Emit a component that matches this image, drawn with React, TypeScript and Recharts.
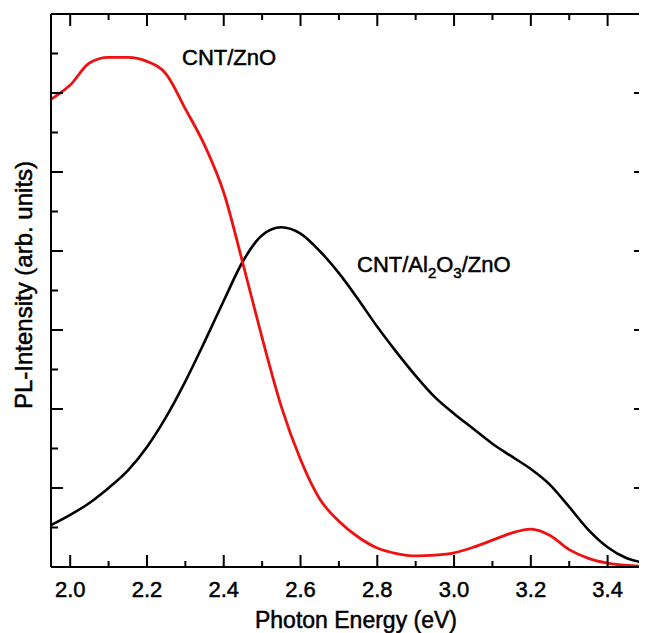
import React from 'react'
import { LineChart, Line, XAxis, YAxis, ReferenceLine, Customized } from 'recharts'

// photon energy grid (eV)
const energy = [
  1.95, 2.0, 2.05, 2.1, 2.15, 2.2, 2.25, 2.3, 2.35, 2.4, 2.45, 2.5, 2.55, 2.6, 2.65, 2.7,
  2.75, 2.8, 2.85, 2.9, 2.95, 3.0, 3.05, 3.1, 3.15, 3.2, 3.25, 3.3, 3.35, 3.4, 3.45, 3.5,
]

// PL intensity, arb. units
const cntZnO = [
  5.92, 6.1, 6.38, 6.45, 6.45, 6.4, 6.24, 5.8, 5.34, 4.74, 3.84, 2.9, 2.03, 1.36, 0.86, 0.58,
  0.38, 0.24, 0.17, 0.14, 0.15, 0.18, 0.25, 0.34, 0.43, 0.48, 0.4, 0.22, 0.11, 0.05, 0.02, 0.01,
]
const cntAl2O3ZnO = [
  0.53, 0.66, 0.81, 1.0, 1.22, 1.52, 1.9, 2.35, 2.85, 3.37, 3.87, 4.2, 4.3, 4.22, 4.0, 3.72,
  3.39, 3.04, 2.72, 2.42, 2.15, 1.94, 1.75, 1.56, 1.4, 1.24, 1.04, 0.76, 0.47, 0.25, 0.11, 0.05,
]

const xTicks = [2.0, 2.1, 2.2, 2.3, 2.4, 2.5, 2.6, 2.7, 2.8, 2.9, 3.0, 3.1, 3.2, 3.3, 3.4]
const yTicks = [0.5, 1, 1.5, 2, 2.5, 3, 3.5, 4, 4.5, 5, 5.5, 6, 6.5]

const X_MIN = 1.95
const X_MAX = 3.5
const Y_MAX = 7

const chartData = energy.map((e, i) => ({
  e,
  zno: cntZnO[i],
  al: cntAl2O3ZnO[i],
}))

// layout
const W = 639
const H = 625
const MARGIN = { top: 6, right: 1, left: 0, bottom: 0 }
const X_AXIS_H = 66
const Y_AXIS_W = 43
const PLOT_W = W - MARGIN.left - MARGIN.right - Y_AXIS_W
const PLOT_H = H - MARGIN.top - MARGIN.bottom - X_AXIS_H

const FONT = '"Liberation Sans", Arial, Helvetica, sans-serif'
const isMajorX = (v: number) => Math.abs(v * 5 - Math.round(v * 5)) < 1e-6
const isMajorY = (v: number) => Math.abs(v - Math.round(v)) < 1e-6

// text slightly heavier than regular, like the scanned figure
const textStyle = { fontFamily: FONT, fill: '#000', stroke: '#000', strokeWidth: 0.5 }

// bottom tick also draws the mirrored tick on the top frame
const BottomTick = (props: any) => {
  const { x, y, payload } = props
  const major = isMajorX(payload.value)
  const len = major ? 12 : 6
  const top = y - PLOT_H
  return (
    <g>
      <line x1={x} x2={x} y1={y} y2={y - len} stroke="#000" strokeWidth={2} />
      <line x1={x} x2={x} y1={top} y2={top + len} stroke="#000" strokeWidth={2} />
      {major && (
        <text x={x} y={y + 30} textAnchor="middle" fontSize={22} style={textStyle}>
          {payload.value.toFixed(1)}
        </text>
      )}
    </g>
  )
}

// left tick also draws the mirrored tick on the right frame
const LeftTick = (props: any) => {
  const { x, y, payload } = props
  const len = isMajorY(payload.value) ? 12 : 7
  const right = x + PLOT_W
  return (
    <g>
      <line x1={x} x2={x + len} y1={y} y2={y} stroke="#000" strokeWidth={2} />
      <line x1={right} x2={right - len} y1={y} y2={y} stroke="#000" strokeWidth={2} />
    </g>
  )
}

const Annotations = () => (
  <g style={textStyle}>
    <text x={174} y={57} fontSize={22}>CNT/ZnO</text>
    <text x={349} y={264} fontSize={22}>
      CNT/Al
      <tspan fontSize={15} dy={6}>2</tspan>
      <tspan dy={-6}>O</tspan>
      <tspan fontSize={15} dy={6}>3</tspan>
      <tspan dy={-6}>/ZnO</tspan>
    </text>
    <text x={348} y={620} fontSize={23} textAnchor="middle">Photon Energy (eV)</text>
    <text x={24} y={277} fontSize={24} textAnchor="middle" transform="rotate(-90, 24, 277)">
      PL-Intensity (arb. units)
    </text>
  </g>
)

export default function App() {
  return (
    <div style={{ width: W, height: H }}>
      <LineChart width={W} height={H} data={chartData} margin={MARGIN}>
        <XAxis
          dataKey="e"
          type="number"
          domain={[X_MIN, X_MAX]}
          ticks={xTicks}
          interval={0}
          height={X_AXIS_H}
          tickSize={0}
          tickMargin={0}
          tickLine={false}
          axisLine={{ stroke: '#000', strokeWidth: 2 }}
          tick={BottomTick}
        />
        <YAxis
          type="number"
          domain={[0, Y_MAX]}
          ticks={yTicks}
          interval={0}
          width={Y_AXIS_W}
          tickSize={0}
          tickMargin={0}
          tickLine={false}
          axisLine={{ stroke: '#000', strokeWidth: 2 }}
          tick={LeftTick}
        />
        {/* top and right frame */}
        <ReferenceLine y={Y_MAX} stroke="#000" strokeWidth={2} />
        <ReferenceLine x={X_MAX} stroke="#000" strokeWidth={2} />
        <Line
          type="monotone"
          dataKey="al"
          stroke="#000"
          strokeWidth={2.6}
          dot={false}
          isAnimationActive={false}
        />
        <Line
          type="monotone"
          dataKey="zno"
          stroke="#ee1111"
          strokeWidth={2.8}
          dot={false}
          isAnimationActive={false}
        />
        <Customized component={Annotations} />
      </LineChart>
    </div>
  )
}
